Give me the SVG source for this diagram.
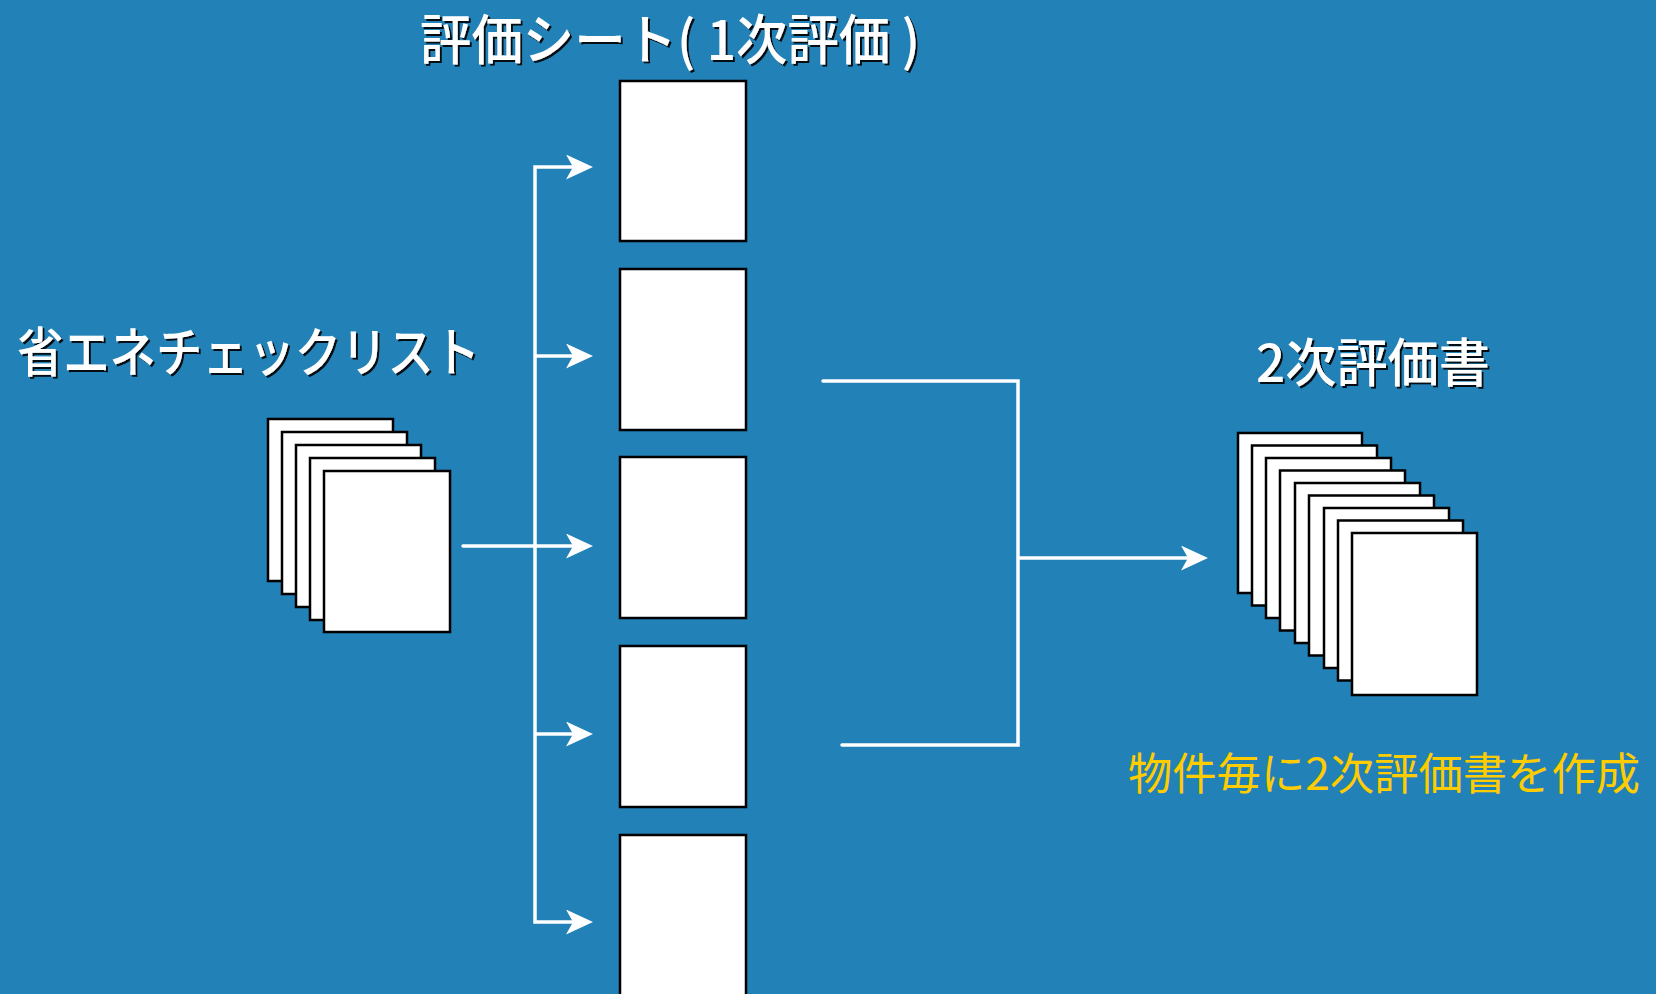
<svg xmlns="http://www.w3.org/2000/svg" width="1656" height="994" viewBox="0 0 1656 994">
<style>
.bg{fill:#2281b7}
.page{fill:#fff;stroke:#000;stroke-width:2.5}
.lbl{font-family:"Noto Sans CJK JP","Noto Sans",sans-serif;font-weight:500;fill:#fff;filter:url(#sh)}
.note{font-family:"Noto Sans CJK JP","Noto Sans",sans-serif;fill:#ffcc00}
.ln{fill:none;stroke:#fff;stroke-width:3.5;stroke-linejoin:miter}
</style>
<defs>
<filter id="sh" x="-10%" y="-30%" width="120%" height="160%">
<feDropShadow dx="2" dy="2" stdDeviation="0.6" flood-color="#000" flood-opacity="0.9"/>
</filter>
<marker id="ah" markerUnits="userSpaceOnUse" markerWidth="28" markerHeight="26" viewBox="0 0 28 26" refX="7" refY="12.5" orient="auto-start-reverse">
<path d="M0,0 L27,12.5 L0,25 L7,12.5 Z" fill="#fff"/>
</marker>
</defs>
<rect class="bg" x="0" y="0" width="1656" height="994"/>

<g id="title-sheets">
<text class="lbl" x="420" y="60" font-size="54" textLength="500" lengthAdjust="spacingAndGlyphs">評価シート( 1次評価 )</text>
</g>

<g id="checklist">
<text class="lbl" x="17" y="372" font-size="53" textLength="463" lengthAdjust="spacingAndGlyphs">省エネチェックリスト</text>
<rect class="page" x="268" y="419" width="125" height="162"/>
<rect class="page" x="282" y="432" width="125" height="162"/>
<rect class="page" x="296" y="445" width="125" height="162"/>
<rect class="page" x="310" y="458" width="125" height="162"/>
<rect class="page" x="324" y="471" width="126" height="161"/>
</g>

<g id="sheet1"><rect class="page" x="620" y="81" width="126" height="160"/></g>
<g id="sheet2"><rect class="page" x="620" y="269" width="126" height="161"/></g>
<g id="sheet3"><rect class="page" x="620" y="457" width="126" height="161"/></g>
<g id="sheet4"><rect class="page" x="620" y="646" width="126" height="161"/></g>
<g id="sheet5"><rect class="page" x="620" y="835" width="126" height="170"/></g>

<g id="second-eval">
<text class="lbl" x="1256" y="382" font-size="52" textLength="234" lengthAdjust="spacingAndGlyphs">2次評価書</text>
<rect class="page" x="1238" y="433" width="124" height="160"/>
<rect class="page" x="1252" y="445.5" width="125" height="160"/>
<rect class="page" x="1266" y="458" width="125" height="160"/>
<rect class="page" x="1280" y="470.5" width="125" height="160"/>
<rect class="page" x="1295" y="483" width="125" height="160"/>
<rect class="page" x="1309" y="495.5" width="125" height="160"/>
<rect class="page" x="1324" y="508" width="125" height="160"/>
<rect class="page" x="1338" y="520.5" width="125" height="160"/>
<rect class="page" x="1352" y="533" width="125" height="162"/>
</g>

<g id="note">
<text class="note" x="1128" y="790" font-size="44" textLength="512" lengthAdjust="spacingAndGlyphs">物件毎に2次評価書を作成</text>
</g>

<g id="connectors">
<path class="ln" d="M573,167 H535 V922 H573" marker-start="url(#ah)" marker-end="url(#ah)"/>
<path class="ln" d="M535,356 H573" marker-end="url(#ah)"/>
<path class="ln" d="M463,546 H573" stroke-linecap="round" marker-end="url(#ah)"/>
<path class="ln" d="M535,734 H573" marker-end="url(#ah)"/>
<path class="ln" d="M823,381 H1018 V745 H842" stroke-linecap="round"/>
<path class="ln" d="M1018,558 H1188" marker-end="url(#ah)"/>
</g>
</svg>
